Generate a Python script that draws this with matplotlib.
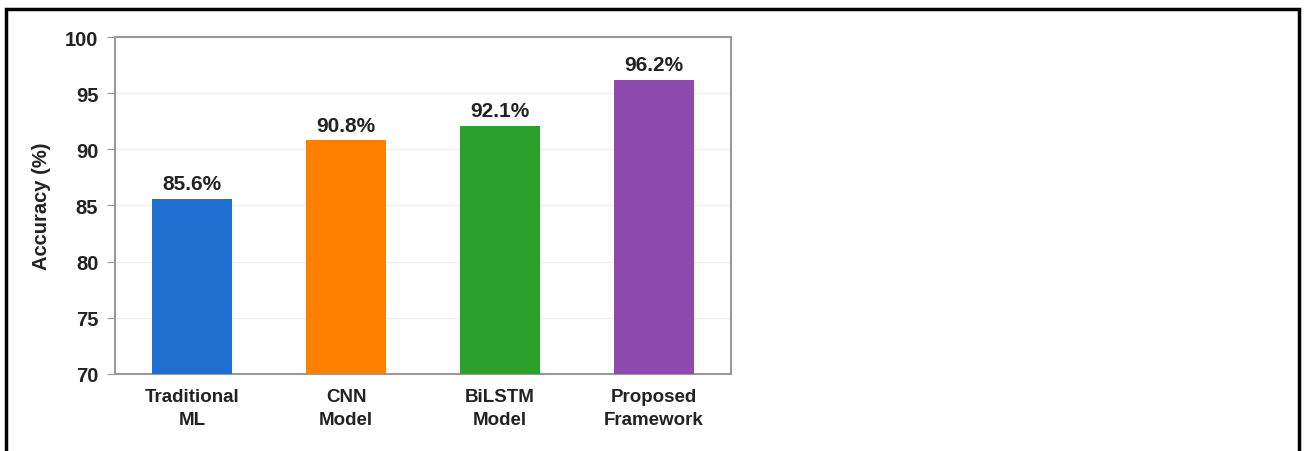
import matplotlib
matplotlib.use('Agg')
import matplotlib.pyplot as plt
import matplotlib.patches as mpatches

# --- DATA ---
categories = ['Traditional\nML', 'CNN\nModel', 'BiLSTM\nModel', 'Proposed\nFramework']
accuracy = [85.6, 90.8, 92.1, 96.2]
bar_colors = ['#1f6fd1', '#ff8000', '#2ca02c', '#8e4bad']
yticks = [70, 75, 80, 85, 90, 95, 100]

plt.rcParams['font.family'] = ['Liberation Sans', 'DejaVu Sans']

fig = plt.figure(figsize=(13.04, 4.52), dpi=100)
ax = fig.add_axes([0.0882, 0.1704, 0.4724, 0.7455])

x = range(len(categories))
ax.bar(x, accuracy, width=0.52, color=bar_colors, zorder=3)

for xi, v in zip(x, accuracy):
    ax.text(xi, v + 0.5, f'{v}%', ha='center', va='bottom',
            fontsize=15, fontweight='bold', color='#222222')

ax.set_ylim(70, 100)
ax.set_xlim(-0.5, 3.5)
ax.set_yticks(yticks)
ax.set_xticks(list(x))
ax.set_xticklabels(categories, fontsize=13.5, fontweight='bold', color='#222222',
                   linespacing=1.45)
for lbl in ax.get_yticklabels():
    lbl.set_fontsize(14.5)
    lbl.set_fontweight('bold')
    lbl.set_color('#222222')
ax.set_ylabel('Accuracy (%)', fontsize=14.5, fontweight='bold', color='#222222', labelpad=10)

ax.yaxis.grid(True, color='#f0f0f0', linewidth=1, zorder=0)
ax.tick_params(axis='y', length=6, color='#999999', pad=6)
ax.tick_params(axis='x', length=0, pad=10)
for s in ax.spines.values():
    s.set_color('#999999')
    s.set_linewidth(1.5)

# outer black frame
fig.patches.append(mpatches.Rectangle((6 / 1304, -0.05), 1293 / 1304, 1.05 - 10 / 452,
                                      transform=fig.transFigure, fill=False,
                                      edgecolor='black', linewidth=2.5))

fig.savefig('out.png', dpi=100)
